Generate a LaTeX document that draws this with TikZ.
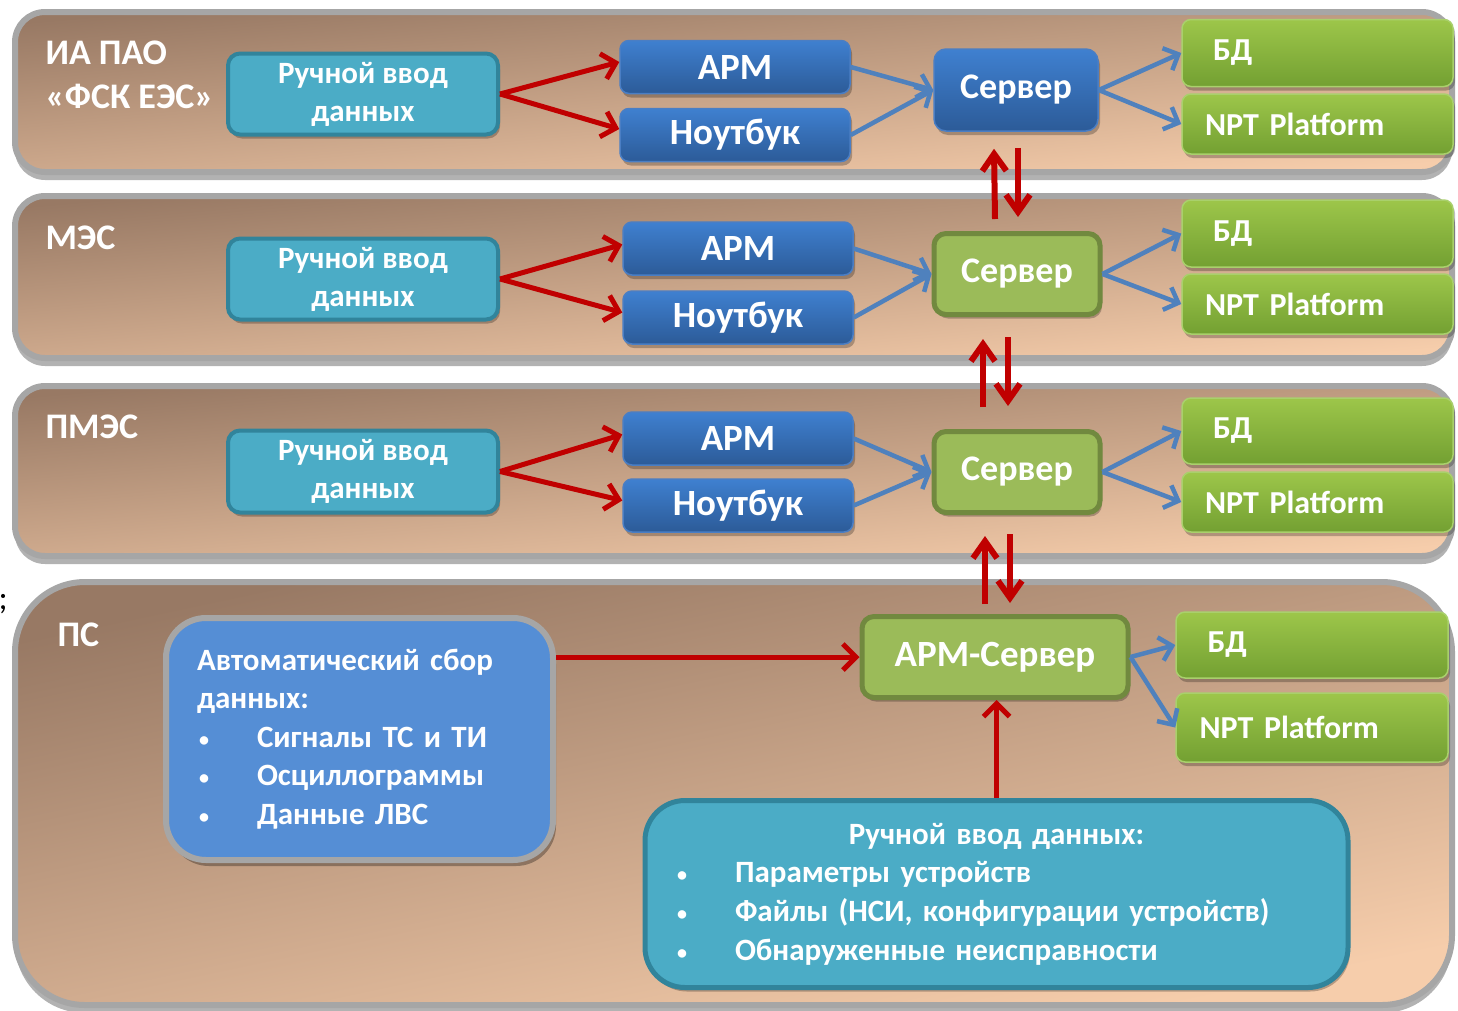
\documentclass[tikz,border=0pt]{standalone}
\usepackage{fontspec}
\setmainfont{Carlito}
\usetikzlibrary{arrows.meta,shadows}
\definecolor{panA}{HTML}{987964}
\definecolor{panB}{HTML}{F6CDAB}
\definecolor{panBorder}{HTML}{A6A6A6}
\definecolor{tealF}{HTML}{4BACC6}
\definecolor{tealD}{HTML}{31849B}
\definecolor{blueT}{HTML}{3F80D0}
\definecolor{blueB}{HTML}{2C5B98}
\definecolor{blueL}{HTML}{4A7EC4}
\definecolor{grnT}{HTML}{9DC64A}
\definecolor{grnB}{HTML}{73A032}
\definecolor{grnL}{HTML}{A9D06C}
\definecolor{srvG}{HTML}{9BBB59}
\definecolor{srvD}{HTML}{71893F}
\definecolor{autoB}{HTML}{558ED5}
\definecolor{redA}{HTML}{C00000}
\definecolor{arrB}{HTML}{4F81BD}
\newcommand{\bul}{\makebox[60pt][l]{\hspace*{2pt}{\fontsize{20}{20}\selectfont\raisebox{1pt}{•}}}}
\begin{document}
\begin{tikzpicture}[x=1pt,y=-1pt,
  panel/.style={draw=panBorder, line width=6pt, top color=panA, bottom color=panB, shading angle=5,
    drop shadow={shadow xshift=0pt, shadow yshift=-8pt, opacity=0.3, fill=black}},
  hdr/.style={text=white, anchor=west, align=left, font=\bfseries\fontsize{36}{44}\selectfont},
  softshadow/.style={drop shadow={shadow xshift=2pt, shadow yshift=-4pt, opacity=0.25, fill=black}},
  manbox/.style={fill=tealF, draw=tealD, line width=4pt, rounded corners=12pt, text=white, align=center,
    font=\bfseries\fontsize{31}{38}\selectfont, minimum width=270pt, minimum height=81pt, inner sep=0pt, softshadow},
  bluebox/.style={top color=blueT, bottom color=blueB, draw=blueL, line width=1.5pt, rounded corners=9pt,
    text=white, font=\bfseries\fontsize{37}{44}\selectfont, minimum width=230pt, minimum height=53pt, inner sep=0pt, softshadow},
  srvblue/.style={bluebox, minimum width=164pt, minimum height=82pt, rounded corners=12pt, font=\bfseries\fontsize{36}{44}\selectfont},
  srvgreen/.style={fill=srvG, draw=srvD, line width=5pt, rounded corners=12pt, text=white,
    font=\bfseries\fontsize{36}{44}\selectfont, minimum width=166pt, minimum height=81pt, inner sep=0pt, softshadow},
  grnbox/.style={top color=grnT, bottom color=grnB, draw=grnL, line width=1.5pt, rounded corners=9pt, text=white,
    font=\bfseries\fontsize{32}{38}\selectfont, text width=225pt, inner xsep=23pt, inner ysep=0pt, align=left, softshadow},
  redar/.style={draw=redA, line width=5pt, -{Straight Barb[length=13pt,width=26pt]}},
  bluar/.style={draw=arrB, line width=4.5pt, -{Straight Barb[length=12pt,width=24pt]}},
  redv/.style={draw=redA, line width=6pt, -{Straight Barb[length=17pt,width=24pt]}},
  bigbox/.style={rounded corners=40pt, text=white, align=left, inner ysep=0pt, font=\bfseries\fontsize{31}{38.6}\selectfont}
]
\useasboundingbox (0,0) rectangle (1458,1010);
\fill[white] (0,0) rectangle (1458,1010);

% panels
\path[panel, rounded corners=30pt] (15,12) rectangle (1452,172);
\path[panel, rounded corners=30pt] (15,196) rectangle (1452,358);
\path[panel, rounded corners=30pt] (15,386) rectangle (1452,556);
\path[panel, rounded corners=70pt, shading angle=12] (15,582) rectangle (1452,1005);

\node[text=black, anchor=west, font=\fontsize{34}{40}\selectfont] (semi) at (-5,604) {;};

% headers
\node[hdr] (h1) at (42,75) {ИА ПАО\\«ФСК ЕЭС»};
\node[hdr] (h2) at (42,238) {МЭС};
\node[hdr] (h3) at (42,427) {ПМЭС};
\node[hdr] (h4) at (54,635) {ПС};

% panel 1
\node[manbox] (m1) at (363,94) {Ручной ввод\\данных};
\node[bluebox] (a1) at (735,67) {АРМ};
\node[bluebox] (n1) at (735,135) {Ноутбук};
\node[srvblue] (s1) at (1016,90) {Сервер};
\node[grnbox, minimum height=67pt] (d1) at (1317.5,53) {\hspace*{8pt}БД};
\node[grnbox, minimum height=60pt] (p1) at (1317.5,124) {NPT Platform};

% panel 2
\node[manbox] (m2) at (363,279) {Ручной ввод\\данных};
\node[bluebox] (a2) at (738,248.5) {АРМ};
\node[bluebox] (n2) at (738,317.5) {Ноутбук};
\node[srvgreen] (s2) at (1017,274) {Сервер};
\node[grnbox, minimum height=67pt] (d2) at (1317.5,233.5) {\hspace*{8pt}БД};
\node[grnbox, minimum height=60pt] (p2) at (1317.5,304) {NPT Platform};

% panel 3
\node[manbox, minimum height=82pt] (m3) at (363,471.5) {Ручной ввод\\данных};
\node[bluebox] (a3) at (738,438.5) {АРМ};
\node[bluebox] (n3) at (738,505.5) {Ноутбук};
\node[srvgreen] (s3) at (1017,472) {Сервер};
\node[grnbox, minimum height=66pt] (d3) at (1317.5,431) {\hspace*{8pt}БД};
\node[grnbox, minimum height=60pt] (p3) at (1317.5,502) {NPT Platform};

% panel 4
\node[bigbox, fill=autoB, draw=panBorder, line width=6pt, text width=325pt, inner xsep=31pt,
  minimum height=242pt, drop shadow={shadow xshift=3pt, shadow yshift=-6pt, opacity=0.3, fill=black}] (auto) at (359.5,739)
  {Автоматический сбор\\данных:\\\bul Сигналы ТС и ТИ\\\bul Осциллограммы\\\bul Данные ЛВС};
\node[srvgreen, minimum width=266pt, font=\bfseries\fontsize{37}{44}\selectfont] (as) at (995,657) {АРМ-Сервер};
\node[grnbox, minimum height=66pt, minimum width=272pt] (d4) at (1312,645) {\hspace*{8pt}БД};
\node[grnbox, minimum height=69pt, minimum width=272pt] (p4) at (1312,727.5) {NPT Platform};
\node[bigbox, fill=tealF, draw=tealD, line width=5pt, text width=643pt, inner xsep=30pt,
  minimum height=187pt, softshadow] (man4) at (996.5,894)
  {\makebox[643pt][c]{Ручной ввод данных:}\\\bul Параметры устройств\\\bul Файлы (НСИ, конфигурации устройств)\\\bul Обнаруженные неисправности};

% arrows panel 1
\draw[redar] (m1.east) -- ([yshift=5pt]a1.west);
\draw[redar] (m1.east) -- ([yshift=6pt]n1.west);
\draw[bluar] (a1.east) -- (s1.west);
\draw[bluar] (n1.east) -- (s1.west);
\draw[bluar] (s1.east) -- (d1.west);
\draw[bluar] (s1.east) -- (p1.west);
% panel 2
\draw[redar] (m2.east) -- ([yshift=4pt]a2.west);
\draw[redar] (m2.east) -- ([yshift=5pt]n2.west);
\draw[bluar] (a2.east) -- (s2.west);
\draw[bluar] (n2.east) -- (s2.west);
\draw[bluar] (s2.east) -- (d2.west);
\draw[bluar] (s2.east) -- (p2.west);
% panel 3
\draw[redar] (m3.east) -- ([yshift=4pt]a3.west);
\draw[redar] (m3.east) -- ([yshift=5pt]n3.west);
\draw[bluar] (a3.east) -- (s3.west);
\draw[bluar] (n3.east) -- (s3.west);
\draw[bluar] (s3.east) -- (d3.west);
\draw[bluar] (s3.east) -- (p3.west);
% panel 4
\draw[redar] (auto.east |- as.west) -- (as.west);
\draw[redar] (man4.north) -- (man4.north |- as.south);
\draw[bluar] (as.east) -- (d4.west);
\draw[bluar] (as.east) -- (p4.west);

% vertical links
\draw[redv] ([xshift=-22pt,yshift=12pt]s2.north) -- ([xshift=-22pt,yshift=-17pt]s1.south);
\draw[redv] ([xshift=2pt,yshift=-16pt]s1.south) -- ([xshift=1pt,yshift=14pt]s2.north);
\draw[redv] ([xshift=-34pt,yshift=22pt]s3.north) -- ([xshift=-34pt,yshift=-22pt]s2.south);
\draw[redv] ([xshift=-9pt,yshift=-20pt]s2.south) -- ([xshift=-9pt,yshift=23pt]s3.north);
\draw[redv] ([xshift=-10pt,yshift=10pt]as.north) -- ([xshift=-32pt,yshift=-21pt]s3.south);
\draw[redv] ([xshift=-7pt,yshift=-19pt]s3.south) -- ([xshift=15pt,yshift=11pt]as.north);
\end{tikzpicture}
\end{document}
